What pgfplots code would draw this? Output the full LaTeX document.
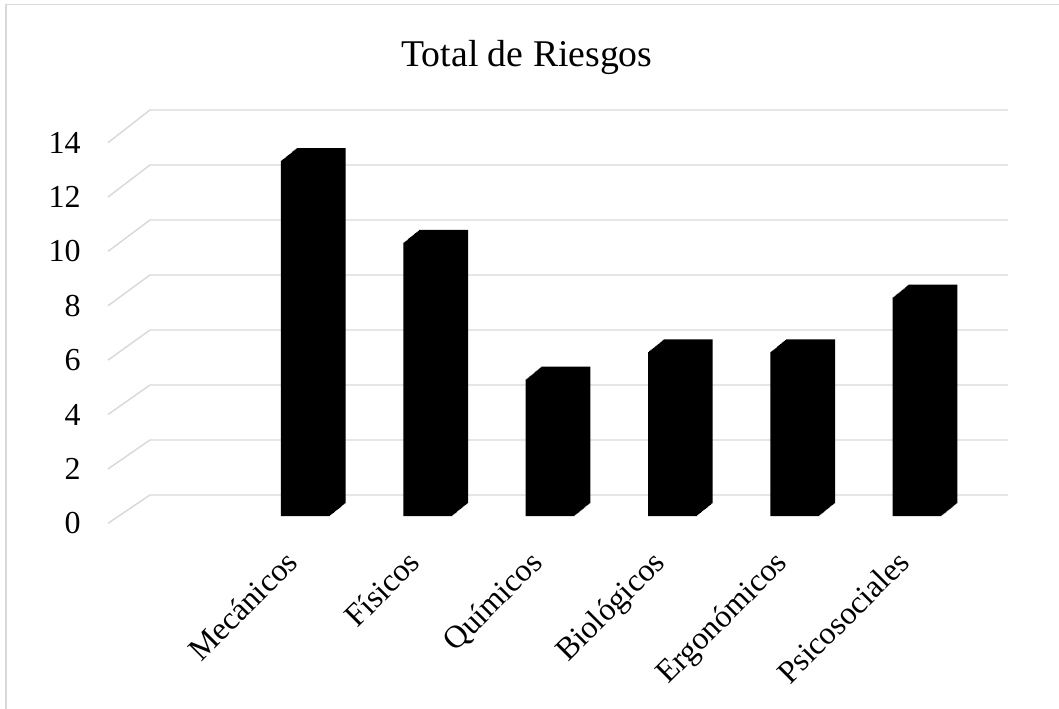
\documentclass[border=0pt]{standalone}
\usepackage{pgfplots}
\pgfplotsset{compat=1.18}
\usepackage{pgfplotstable}
\usepackage{fontspec}
\setmainfont{Liberation Serif}
\definecolor{gridc}{HTML}{D9D9D9}
\pgfplotstableread{
x y
1 13
2 10
3 5
4 6
5 6
6 8
}\riesgos

\begin{document}
\begin{tikzpicture}[x=1pt,y=1pt]
\useasboundingbox (0,0) rectangle (794.25,531.75);
\draw[gridc, line width=1.1pt] (4.5,-2) -- (4.5,528.5) -- (800,528.5);
\begin{axis}[
  at={(81pt,139.275pt)}, anchor=south west,
  scale only axis, width=675pt, height=310.07pt,
  xmin=-0.614, xmax=6.742, ymin=-0.267, ymax=14.86,
  axis line style={draw=none},
  ytick=\empty,
  xtick={1,...,6},
  xticklabels={Mecánicos,Físicos,Químicos,Biológicos,Ergonómicos,Psicosociales},
  major tick length=0pt,
  xticklabel style={font=\fontsize{24}{24}\selectfont, xshift=-16.5pt, yshift=-19pt, anchor=north east, rotate=45, inner sep=0pt},
  clip=false,
]
\pgfplotsinvokeforeach{0,2,...,14}{
  \draw[gridc, line width=1.1pt] (axis cs:-0.614,{-0.267+0.9949*#1}) -- (axis cs:-0.271,{0.768+1.0062*#1}) -- (axis cs:6.742,{0.768+1.0062*#1});
  \node[anchor=east, inner sep=0pt, font=\fontsize{24}{24}\selectfont, xshift=-20.25pt] at (axis cs:-0.614,{-0.267+0.9949*#1}) {#1};
}
\pgfplotsinvokeforeach{0,...,16}{
  \addplot[ybar, bar width=36.75pt, fill=black, draw=none, xshift=#1*0.7359pt, yshift=#1*0.5953pt, forget plot] table[x=x,y=y]{\riesgos};
}
\end{axis}
\node[font=\fontsize{28.3}{30}\selectfont, anchor=base] at (395.25,481.7) {Total de Riesgos};
\end{tikzpicture}
\end{document}
